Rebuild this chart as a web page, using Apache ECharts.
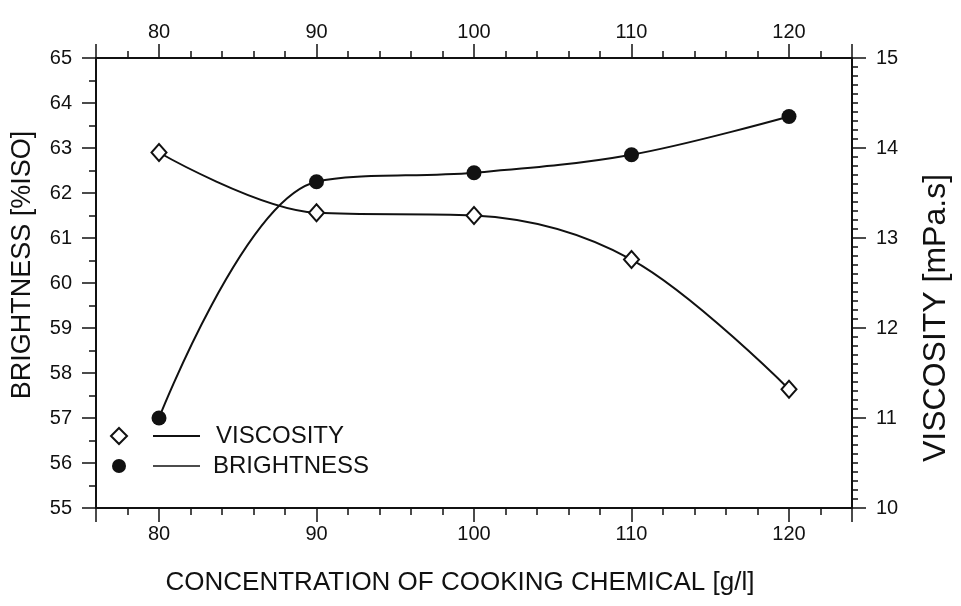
<!DOCTYPE html>
<html>
<head>
<meta charset="utf-8">
<script src="https://cdn.jsdelivr.net/npm/echarts@6/dist/echarts.min.js"></script>
<style>
html, body { margin: 0; padding: 0; background: #fff; }
#chart { width: 961px; height: 606px; }
</style>
</head>
<body>
<div id="chart"></div>
<script>
// concentration of cooking chemical [g/l]
var concentration = [80, 90, 100, 110, 120];
// brightness [%ISO], left axis
var brightness = [57.0, 62.25, 62.45, 62.85, 63.7];
// viscosity [mPa.s], right axis
var viscosity = [13.95, 13.28, 13.25, 12.76, 11.32];

var font = "'Liberation Sans', Arial, sans-serif";
var ink = '#111';

function pairs(xs, ys) {
    return xs.map(function (x, i) { return [x, ys[i]]; });
}

// x axis 76..124: nice ticks fall on the tens, minor ticks every 2
function xAxis(pos) {
    return {
        type: 'value', position: pos, min: 76, max: 124, splitNumber: 5,
        splitLine: { show: false },
        axisLine: { show: true, onZero: false, lineStyle: { color: ink, width: 2 } },
        axisTick: { show: true, length: 14, lineStyle: { color: ink, width: 1.5 } },
        minorTick: { show: true, splitNumber: 5, length: 7, lineStyle: { color: ink, width: 1.5 } },
        axisLabel: {
            showMinLabel: false, showMaxLabel: false, margin: 16,
            color: ink, fontFamily: font, fontSize: 20
        }
    };
}

var bottomAxis = xAxis('bottom');
bottomAxis.name = 'CONCENTRATION OF COOKING CHEMICAL [g/l]';
bottomAxis.nameLocation = 'middle';
bottomAxis.nameGap = 62;
bottomAxis.nameTextStyle = { color: ink, fontFamily: font, fontSize: 26, padding: [0, 28, 0, 0] };

var option = {
    backgroundColor: '#fff',
    animation: false,
    grid: { left: 96, right: 109, top: 58, bottom: 98 },
    xAxis: [bottomAxis, xAxis('top')],
    yAxis: [
        {
            type: 'value', position: 'left', min: 55, max: 65, interval: 1,
            name: 'BRIGHTNESS [%ISO]', nameLocation: 'middle', nameGap: 60, nameRotate: 90,
            nameTextStyle: { color: ink, fontFamily: font, fontSize: 27, padding: [0, 0, 0, 36] },
            splitLine: { show: false },
            axisLine: { show: true, lineStyle: { color: ink, width: 2 } },
            axisTick: { show: true, length: 14, lineStyle: { color: ink, width: 1.5 } },
            minorTick: { show: true, splitNumber: 2, length: 7, lineStyle: { color: ink, width: 1.5 } },
            axisLabel: { margin: 24, color: ink, fontFamily: font, fontSize: 20 }
        },
        {
            type: 'value', position: 'right', min: 10, max: 15, interval: 1,
            name: 'VISCOSITY [mPa.s]', nameLocation: 'middle', nameGap: 68, nameRotate: 90,
            nameTextStyle: { color: ink, fontFamily: font, fontSize: 32, padding: [0, 70, 0, 0] },
            splitLine: { show: false },
            axisLine: { show: true, lineStyle: { color: ink, width: 2 } },
            axisTick: { show: true, length: 14, lineStyle: { color: ink, width: 1.5 } },
            minorTick: { show: true, splitNumber: 10, length: 6, lineStyle: { color: ink, width: 1.5 } },
            axisLabel: { margin: 24, color: ink, fontFamily: font, fontSize: 20 }
        }
    ],
    // legend box in the lower left of the plot
    graphic: [
        { type: 'polygon', shape: { points: [[119, 428], [127, 436], [119, 444], [111, 436]] },
          style: { fill: '#fff', stroke: ink, lineWidth: 2 } },
        { type: 'line', shape: { x1: 153, y1: 436, x2: 200, y2: 436 }, style: { stroke: ink, lineWidth: 2 } },
        { type: 'text', left: 216, top: 424,
          style: { text: 'VISCOSITY', fill: ink, font: '24px ' + font } },
        { type: 'circle', shape: { cx: 119, cy: 466, r: 7 }, style: { fill: ink } },
        { type: 'line', shape: { x1: 153, y1: 466, x2: 200, y2: 466 }, style: { stroke: ink, lineWidth: 1.5 } },
        { type: 'text', left: 213, top: 454,
          style: { text: 'BRIGHTNESS', fill: ink, font: '24px ' + font } }
    ],
    series: [
        {
            name: 'BRIGHTNESS', type: 'line', xAxisIndex: 0, yAxisIndex: 0,
            data: pairs(concentration, brightness),
            smooth: 0.35,
            symbol: 'circle', symbolSize: 15,
            lineStyle: { color: ink, width: 2 },
            itemStyle: { color: ink }
        },
        {
            name: 'VISCOSITY', type: 'line', xAxisIndex: 0, yAxisIndex: 1,
            data: pairs(concentration, viscosity),
            smooth: 0.35,
            symbol: 'diamond', symbolSize: [15, 17],
            lineStyle: { color: ink, width: 2 },
            itemStyle: { color: '#fff', borderColor: ink, borderWidth: 2 }
        }
    ]
};

var myChart = echarts.init(document.getElementById('chart'));
myChart.setOption(option);
</script>
</body>
</html>
